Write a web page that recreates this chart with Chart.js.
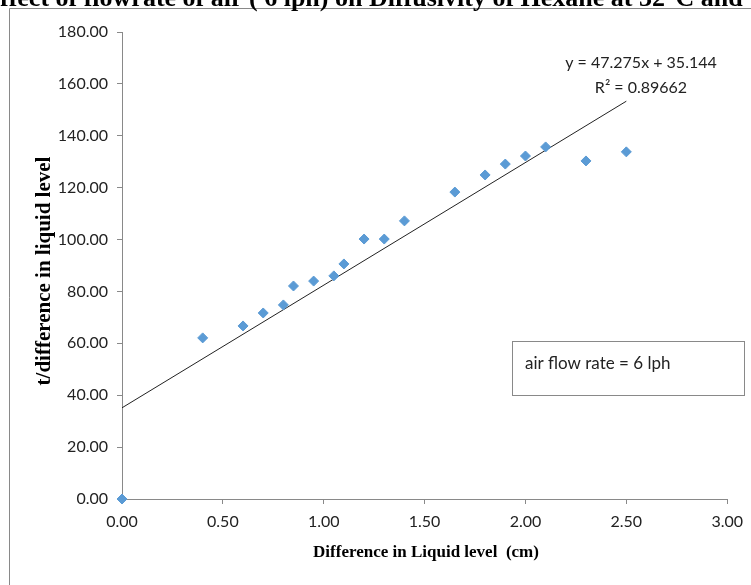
<!DOCTYPE html>
<html>
<head>
<meta charset="utf-8">
<script src="https://cdn.jsdelivr.net/npm/chart.js@4"></script>
<style>
  html, body { margin: 0; padding: 0; background: #fff; }
  canvas { display: block; }
</style>
</head>
<body>
<canvas id="myChart" width="751" height="585"></canvas>
<script>
// measured points: difference in liquid level (cm) vs t/difference
const levelDiff = [0.00, 0.40, 0.60, 0.70, 0.80, 0.85, 0.95, 1.05, 1.10, 1.20, 1.30, 1.40, 1.65, 1.80, 1.90, 2.00, 2.10, 2.30, 2.50];
const tOverDiff = [0.00, 62.1, 66.7, 71.7, 74.8, 82.1, 84.0, 86.0, 90.6, 100.2, 100.2, 107.2, 118.3, 124.9, 129.1, 132.2, 135.7, 130.3, 133.8];

// linear trendline as reported on the chart
const slope = 47.275;
const intercept = 35.144;
const r2 = 0.89662;
const trendX = [0, 2.5];

const xTicks = [0, 0.5, 1, 1.5, 2, 2.5, 3];
const yTicks = [0, 20, 40, 60, 80, 100, 120, 140, 160, 180];

const titleText = 'Effect of flowrate of air ( 6 lph) on Diffusivity of Hexane at 32°C and';
const noteText = 'air flow rate = 6 lph';

const tickFont = { family: 'Lato', size: 16 };
const grey = '#898989';

const decorations = {
  id: 'decorations',
  beforeDraw(chart) {
    const ctx = chart.ctx;
    ctx.save();
    ctx.fillStyle = '#fff';
    ctx.fillRect(0, 0, chart.width, chart.height);
    // outer frame
    ctx.strokeStyle = grey;
    ctx.lineWidth = 1;
    ctx.beginPath();
    ctx.moveTo(9.5, chart.height + 2);
    ctx.lineTo(9.5, 8.5);
    ctx.lineTo(chart.width + 2, 8.5);
    ctx.stroke();
    ctx.restore();
  },
  afterDraw(chart) {
    const ctx = chart.ctx;
    ctx.save();
    // title, running off the top edge
    ctx.fillStyle = '#000';
    ctx.font = 'bold 26px "Liberation Serif"';
    ctx.textBaseline = 'alphabetic';
    ctx.textAlign = 'left';
    ctx.fillText(titleText, -ctx.measureText('E').width, 6);

    // axis titles
    ctx.textAlign = 'center';
    ctx.textBaseline = 'middle';
    ctx.font = 'bold 17px "Liberation Serif"';
    ctx.fillText('Difference in Liquid level  (cm)', 426, 553);
    ctx.save();
    ctx.font = 'bold 21px "Liberation Serif"';
    ctx.translate(45, 271);
    ctx.rotate(-Math.PI / 2);
    ctx.fillText('t/difference in liquid level', 0, 0);
    ctx.restore();

    // trendline equation
    ctx.font = '16px Lato';
    ctx.fillStyle = '#222';
    ctx.fillText('y = ' + slope + 'x + ' + intercept, 641, 63);
    ctx.fillText('R² = ' + r2, 641, 88);

    // note box
    ctx.strokeStyle = grey;
    ctx.strokeRect(512.5, 341.5, 232, 54);
    ctx.font = '17px Lato';
    ctx.textAlign = 'left';
    ctx.fillText(noteText, 525, 364);
    ctx.restore();
  }
};

const ctx = document.getElementById('myChart');

new Chart(ctx, {
  type: 'scatter',
  data: {
    datasets: [
      {
        type: 'line',
        data: trendX.map(x => ({ x: x, y: slope * x + intercept })),
        borderColor: '#222',
        borderWidth: 1,
        pointRadius: 0,
        fill: false,
        order: 2
      },
      {
        data: levelDiff.map((x, i) => ({ x: x, y: tOverDiff[i] })),
        pointStyle: 'rectRot',
        pointRadius: 5,
        backgroundColor: '#5b9bd5',
        borderColor: '#5b9bd5',
        borderWidth: 1,
        clip: false,
        order: 1
      }
    ]
  },
  options: {
    responsive: false,
    animation: false,
    layout: { padding: { top: 32, right: 23, left: 0, bottom: 0 } },
    plugins: {
      legend: { display: false },
      tooltip: { enabled: false }
    },
    scales: {
      x: {
        type: 'linear',
        min: 0,
        max: 3,
        afterBuildTicks: s => { s.ticks = xTicks.map(v => ({ value: v })); },
        afterFit: s => { s.height = 86; },
        ticks: {
          callback: v => v.toFixed(2),
          font: tickFont,
          color: '#222',
          padding: 8
        },
        grid: { drawOnChartArea: false, drawTicks: true, tickLength: 5, color: grey },
        border: { color: grey }
      },
      y: {
        min: 0,
        max: 180,
        afterBuildTicks: s => { s.ticks = yTicks.map(v => ({ value: v })); },
        afterFit: s => { s.width = 122; },
        ticks: {
          callback: v => v.toFixed(2),
          font: tickFont,
          color: '#222',
          padding: 9
        },
        grid: { drawOnChartArea: false, drawTicks: true, tickLength: 5, color: grey },
        border: { color: grey }
      }
    }
  },
  plugins: [decorations]
});
</script>
</body>
</html>
